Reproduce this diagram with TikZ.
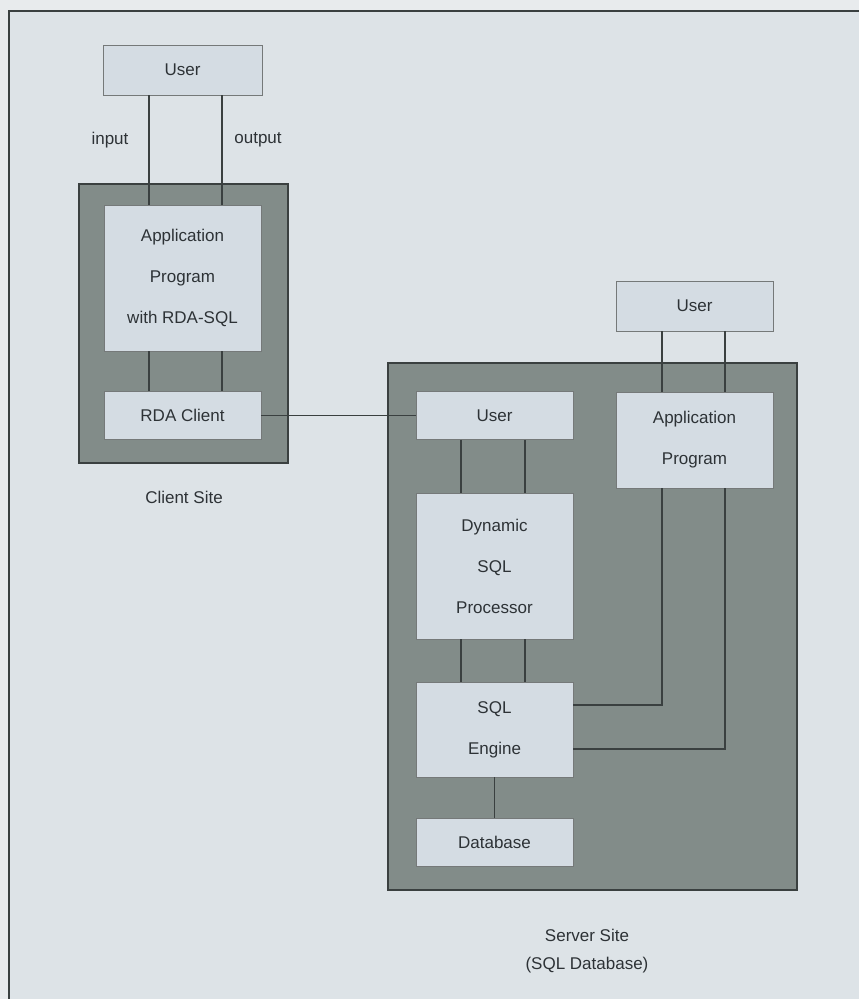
\documentclass[tikz,border=0pt]{standalone}
\usepackage{fontspec}
\setmainfont{Liberation Sans}
\usepackage{xcolor}
\usepackage{tikz}
\definecolor{pagebg}{RGB}{232,235,237}
\definecolor{framebg}{RGB}{221,227,231}
\definecolor{boxbg}{RGB}{212,220,227}
\definecolor{sitebg}{RGB}{130,140,137}
\definecolor{ln}{RGB}{58,64,64}
\definecolor{txt}{RGB}{45,50,54}

\begin{document}
\begin{tikzpicture}[x=1pt, y=-1pt, font=\fontsize{17}{41}\selectfont, text=txt,
                bx/.style={draw=ln!70, fill=boxbg, line width=0.8pt, minimum width=157pt, align=center, inner sep=0pt},
                site/.style={draw=ln, fill=sitebg, line width=1.2pt, inner sep=0pt},
                cn/.style={draw=ln, line width=1.4pt}]

            \useasboundingbox (0,0) rectangle (859,999);
            \fill[pagebg] (0,0) rectangle (859,999);
            \fill[framebg] (9,11) rectangle (859,999);
            \draw[ln, line width=2pt] (9,999) -- (9,11) -- (859,11);

            % client
            \node[site, minimum width=209pt, minimum height=279pt] (client) at (183.5,323.5) {};
            \node[bx, minimum width=159pt, minimum height=50pt] (userc) at (182.5,70) {User};
            \node[bx, minimum height=146pt] (appc) at (182.5,278) {Application\\Program\\with RDA-SQL};
            \node[bx, minimum height=48pt] (rdac) at (182.5,415.5) {RDA Client};
            \draw[cn] ([xshift=-33.5pt]userc.south) -- ([xshift=-33.5pt]appc.north);
            \draw[cn] ([xshift=39.5pt]userc.south) -- ([xshift=39.5pt]appc.north);
            \draw[cn] ([xshift=-33.5pt]appc.south) -- ([xshift=-33.5pt]rdac.north);
            \draw[cn] ([xshift=39.5pt]appc.south) -- ([xshift=39.5pt]rdac.north);
            \node (inp) at (110,140) {input};
            \node (outp) at (258,140) {output};
            \node (clab) at (184,497) {Client Site};

            % server
            \node[site, minimum width=409pt, minimum height=527pt] (server) at (592.5,626.5) {};
            \node[bx, minimum height=50pt] (users) at (694.5,306) {User};
            \node[bx, minimum height=96pt] (apps) at (694.5,440) {Application\\Program};
            \node[bx, minimum height=48pt] (userin) at (494.5,415.5) {User};
            \node[bx, minimum height=146pt] (dsql) at (494.5,566) {Dynamic\\SQL\\Processor};
            \node[bx, minimum height=95pt] (engine) at (494.5,729.5) {SQL\\Engine};
            \node[bx, minimum height=48pt] (db) at (494.5,842) {Database};
            \draw[cn] ([xshift=-32.5pt]users.south) -- ([xshift=-32.5pt]apps.north);
            \draw[cn] ([xshift=30.5pt]users.south) -- ([xshift=30.5pt]apps.north);
            \draw[cn] ([xshift=-33.5pt]userin.south) -- ([xshift=-33.5pt]dsql.north);
            \draw[cn] ([xshift=30.5pt]userin.south) -- ([xshift=30.5pt]dsql.north);
            \draw[cn] ([xshift=-33.5pt]dsql.south) -- ([xshift=-33.5pt]engine.north);
            \draw[cn] ([xshift=30.5pt]dsql.south) -- ([xshift=30.5pt]engine.north);
            \draw[cn] ([xshift=-32.5pt]apps.south) |- ([yshift=24.5pt]engine.east);
            \draw[cn] ([xshift=30.5pt]apps.south) |- ([yshift=-19.5pt]engine.east);
            \draw[cn] (engine.south) -- (db.north);
            \node[align=center, font=\fontsize{17}{28}\selectfont] (slab) at (587,951) {Server Site\\(SQL Database)};

            % client -- server
            \draw[cn] (rdac.east) -- (userin.west);

        \end{tikzpicture}
\end{document}
